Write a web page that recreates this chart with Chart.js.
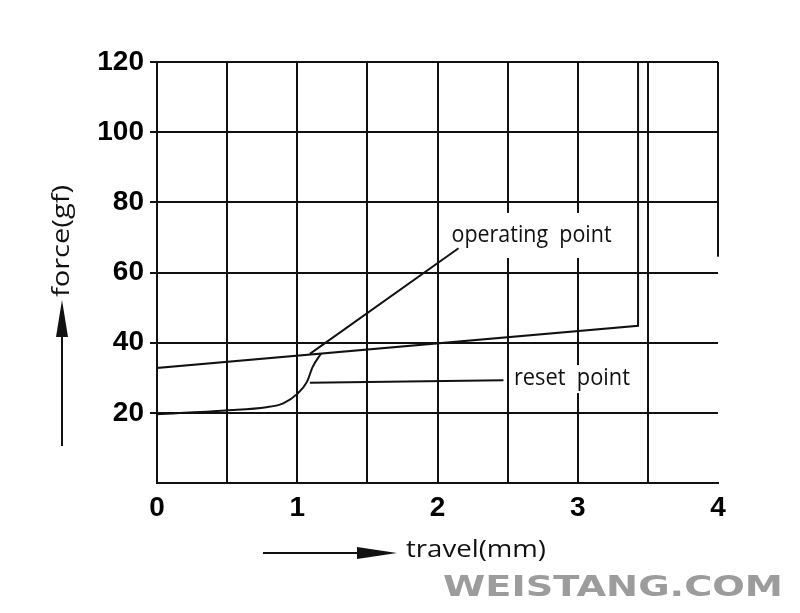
<!DOCTYPE html>
<html>
<head>
<meta charset="utf-8">
<script src="https://cdn.jsdelivr.net/npm/chart.js@4.4.0/dist/chart.umd.min.js"></script>
<style>
  html, body { margin: 0; padding: 0; background: #fff; }
  #wrap { width: 800px; height: 613px; }
</style>
</head>
<body>
<div id="wrap"><canvas id="chart"></canvas></div>
<script>
// tick labels
const xLabels = [0, 1, 2, 3, 4]
const yLabels = [20, 40, 60, 80, 100, 120]

// operating (press) curve
const pressTravel = [0, 0, 3.43, 3.43]
const pressForce = [27.5, 32.8, 44.8, 120]

// reset (release) curve
const releaseTravel = [0, 0.49, 0.78, 0.9, 1.0, 1.07, 1.11, 1.17]
const releaseForce = [19.6, 20.7, 21.6, 22.7, 25.4, 28.9, 33.1, 36.9]

// leader lines for the two notes
const opLeaderTravel = [1.09, 2.15]
const opLeaderForce = [36.8, 66.9]
const resetLeaderTravel = [1.09, 2.47]
const resetLeaderForce = [28.6, 29.3]

// right edge of the frame, only drawn in the upper part
const edgeTravel = [4, 4]
const edgeForce = [120, 64.5]

const notes = ['operating  point', 'reset  point']

function pts (xs, ys) {
  return xs.map((v, i) => ({ x: v, y: ys[i] }))
}

function lineSet (xs, ys, extra) {
  return Object.assign({
    data: pts(xs, ys),
    showLine: true,
    borderColor: '#111',
    borderWidth: 2,
    pointRadius: 0,
    tension: 0,
    clip: false
  }, extra || {})
}

// text squeezed/stretched to a given width, left edge at px
function fitText (ctx, text, px, py, width, font) {
  ctx.save()
  ctx.font = font
  const w = ctx.measureText(text).width
  ctx.translate(px, py)
  ctx.scale(width / w, 1)
  ctx.textAlign = 'left'
  ctx.textBaseline = 'middle'
  ctx.fillText(text, 0, 0)
  ctx.restore()
}

const thin = '24px "Open Sans"'

const notesPlugin = {
  id: 'notes',
  beforeDatasetsDraw (chart) {
    const { ctx } = chart
    const x = chart.scales.x
    const y = chart.scales.y
    ctx.save()
    // white patches behind the notes cut the grid
    ctx.fillStyle = '#fff'
    const ox = x.getPixelForValue(2.1)
    const oy = y.getPixelForValue(70.7)
    ctx.fillRect(ox - 6, oy - 22, 172, 45)
    const rx = x.getPixelForValue(2.545)
    const ry = y.getPixelForValue(29.9)
    ctx.fillRect(rx - 3, ry - 13, 124, 28)
    ctx.fillStyle = '#111'
    fitText(ctx, notes[0], ox, oy, 160, thin)
    fitText(ctx, notes[1], rx, ry, 116, thin)
    ctx.restore()
  }
}

const decor = {
  id: 'decor',
  afterDraw (chart) {
    const { ctx } = chart
    ctx.save()
    ctx.strokeStyle = '#111'
    ctx.fillStyle = '#111'
    ctx.lineWidth = 2

    // force arrow
    ctx.beginPath()
    ctx.moveTo(62, 446)
    ctx.lineTo(62, 330)
    ctx.stroke()
    ctx.beginPath()
    ctx.moveTo(62, 300)
    ctx.lineTo(56, 337)
    ctx.lineTo(68, 337)
    ctx.closePath()
    ctx.fill()

    ctx.save()
    ctx.translate(62, 297)
    ctx.rotate(-Math.PI / 2)
    fitText(ctx, 'force(gf)', 0, 0, 112, thin)
    ctx.restore()

    // travel arrow
    ctx.beginPath()
    ctx.moveTo(263, 553)
    ctx.lineTo(370, 553)
    ctx.stroke()
    ctx.beginPath()
    ctx.moveTo(397, 553)
    ctx.lineTo(357, 547)
    ctx.lineTo(357, 559)
    ctx.closePath()
    ctx.fill()

    fitText(ctx, 'travel(mm)', 406, 550, 140, thin)

    // watermark
    ctx.fillStyle = '#9c9c9c'
    fitText(ctx, 'WEISTANG.COM', 443, 589, 340, 'bold 28px "DejaVu Sans"')

    ctx.restore()
  }
}

const tickFont = { family: '"Liberation Sans", Arial, sans-serif', size: 28, weight: 'bold' }

const ctx1 = document.getElementById('chart').getContext('2d')
const myChart = new Chart(ctx1, {
  type: 'scatter',
  data: {
    datasets: [
      lineSet(pressTravel, pressForce),
      lineSet(releaseTravel, releaseForce, { cubicInterpolationMode: 'monotone' }),
      lineSet(opLeaderTravel, opLeaderForce),
      lineSet(resetLeaderTravel, resetLeaderForce),
      lineSet(edgeTravel, edgeForce)
    ]
  },
  options: {
    responsive: true,
    maintainAspectRatio: false,
    animation: false,
    layout: { padding: { top: 62, right: 82, left: 0, bottom: 0 } },
    plugins: {
      legend: { display: false },
      tooltip: { enabled: false }
    },
    scales: {
      x: {
        type: 'linear',
        min: 0,
        max: 4,
        afterFit: (scale) => { scale.height = 130 },
        border: { display: true, color: '#111', width: 2 },
        grid: {
          color: (c) => (c.tick && c.tick.value === 4 ? 'rgba(0,0,0,0)' : '#111'),
          lineWidth: 2,
          drawTicks: false
        },
        ticks: {
          stepSize: 0.5,
          autoSkip: false,
          maxRotation: 0,
          padding: 8,
          color: '#000',
          font: tickFont,
          callback: (v) => (xLabels.includes(v) ? String(v) : '')
        }
      },
      y: {
        type: 'linear',
        min: 0,
        max: 120,
        afterFit: (scale) => { scale.width = 157 },
        border: { display: true, color: '#111', width: 2 },
        grid: {
          color: '#111',
          lineWidth: 2,
          tickLength: 7,
          tickColor: (c) => (c.tick && c.tick.value === 0 ? 'rgba(0,0,0,0)' : '#111')
        },
        ticks: {
          stepSize: 20,
          padding: 6,
          color: '#000',
          font: tickFont,
          callback: (v) => (yLabels.includes(v) ? String(v) : '')
        }
      }
    }
  },
  plugins: [notesPlugin, decor]
})
</script>
</body>
</html>
